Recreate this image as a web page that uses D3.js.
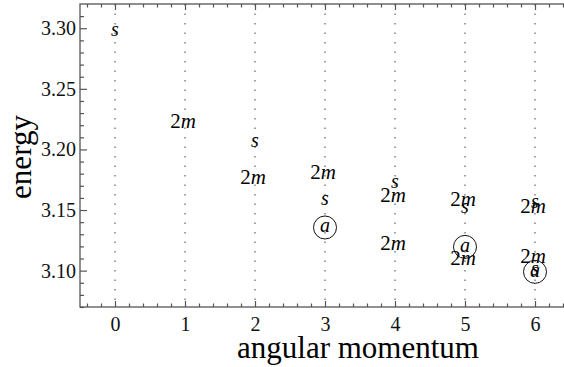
<!DOCTYPE html>
<html>
<head>
<meta charset="utf-8">
<script src="https://cdn.jsdelivr.net/npm/d3@7"></script>
<style>
  body { margin: 0; background: #fff; }
  .axis path { display: none; }
  .axis line { stroke: #555; stroke-width: 1.2; }
</style>
</head>
<body>
<svg id="chart" width="564" height="367"></svg>
<script>
// angular momentum values (x) and energy levels by label type
const lValues = [0, 1, 2, 3, 4, 5, 6];
const yMajor = [3.10, 3.15, 3.20, 3.25, 3.30];

const sLevels = [[0, 3.297], [2, 3.206], [3, 3.158], [4, 3.172], [5, 3.151], [6, 3.155], [6, 3.100]];
const mLevels = [[1, 3.2235], [2, 3.177], [3, 3.181], [4, 3.162], [4, 3.123], [5, 3.159], [5, 3.110], [6, 3.153], [6, 3.112]];
const aLevels = [[3, 3.1356], [5, 3.1196], [6, 3.099]];

const serif = "'Liberation Serif', 'Times New Roman', serif";

const svg = d3.select("#chart"),
  margin = { top: 4, left: 80 },
  plotWidth = 490,
  plotHeight = 303;

const g = svg.append("g").attr("transform", `translate(${margin.left},${margin.top})`);

const x = d3.scaleLinear().domain([-0.5, 6.5]).range([0, plotWidth]);
const y = d3.scaleLinear().domain([3.07, 3.32]).range([plotHeight, 0]);

const xMinor = d3.range(-4, 65, 2).map(d => d / 10).filter(d => !Number.isInteger(d));
const yMinor = d3.range(307, 332).map(d => d / 100).filter(d => !yMajor.some(m => Math.abs(m - d) < 1e-6));

// dotted guide lines at each L
g.selectAll(".guide").data(lValues).enter().append("line")
  .attr("class", "guide")
  .attr("x1", d => x(d)).attr("x2", d => x(d))
  .attr("y1", 0).attr("y2", plotHeight)
  .attr("stroke", "#777")
  .attr("stroke-width", 1.4)
  .attr("stroke-dasharray", "1.4,8.1");

// frame
g.append("rect")
  .attr("width", plotWidth).attr("height", plotHeight)
  .attr("fill", "none").attr("stroke", "#555").attr("stroke-width", 1.3);

// bottom axis
const xAxis = g.append("g").attr("class", "axis").attr("transform", `translate(0,${plotHeight})`)
  .call(d3.axisBottom(x).tickValues(lValues).tickSize(-6).tickPadding(10).tickFormat(d3.format("d")));
g.append("g").attr("class", "axis").attr("transform", `translate(0,${plotHeight})`)
  .call(d3.axisBottom(x).tickValues(xMinor).tickSize(-3.5).tickFormat(""));
// top axis
g.append("g").attr("class", "axis")
  .call(d3.axisTop(x).tickValues(lValues).tickSize(-6).tickFormat(""));
g.append("g").attr("class", "axis")
  .call(d3.axisTop(x).tickValues(xMinor).tickSize(-3.5).tickFormat(""));
// left axis
const yAxis = g.append("g").attr("class", "axis")
  .call(d3.axisLeft(y).tickValues(yMajor).tickSize(-7).tickPadding(4).tickFormat(d3.format(".2f")));
g.append("g").attr("class", "axis")
  .call(d3.axisLeft(y).tickValues(yMinor).tickSize(-4).tickFormat(""));

[xAxis, yAxis].forEach(a => a.attr("font-family", serif).attr("font-size", 20)
  .selectAll("text").attr("fill", "#111"));

// s labels
g.selectAll(".s-lab").data(sLevels).enter().append("text")
  .attr("class", "s-lab")
  .attr("x", d => x(d[0]))
  .attr("y", d => y(d[1]))
  .attr("dy", "0.22em")
  .attr("text-anchor", "middle")
  .attr("font-family", serif)
  .attr("font-size", 20)
  .attr("font-style", "italic")
  .text("s");

// 2m labels
const mLab = g.selectAll(".m-lab").data(mLevels).enter().append("text")
  .attr("class", "m-lab")
  .attr("x", d => x(d[0]) - 2)
  .attr("y", d => y(d[1]))
  .attr("dy", "0.33em")
  .attr("text-anchor", "middle")
  .attr("font-family", serif)
  .attr("font-size", 21);
mLab.append("tspan").text("2");
mLab.append("tspan").attr("font-style", "italic").text("m");

// circled a labels
const aLab = g.selectAll(".a-lab").data(aLevels).enter().append("g")
  .attr("class", "a-lab")
  .attr("transform", d => `translate(${x(d[0])},${y(d[1])})`);
aLab.append("circle").attr("r", 11.5).attr("fill", "none").attr("stroke", "#111").attr("stroke-width", 1);
aLab.append("text")
  .attr("dy", "0.25em")
  .attr("text-anchor", "middle")
  .attr("font-family", serif)
  .attr("font-size", 20)
  .attr("font-style", "italic")
  .text("a");

// axis titles
svg.append("text")
  .attr("x", 358).attr("y", 358)
  .attr("text-anchor", "middle")
  .attr("font-family", serif)
  .attr("font-size", 31)
  .text("angular momentum");

svg.append("text")
  .attr("transform", "translate(31,157) rotate(-90)")
  .attr("text-anchor", "middle")
  .attr("font-family", serif)
  .attr("font-size", 31)
  .text("energy");
</script>
</body>
</html>
